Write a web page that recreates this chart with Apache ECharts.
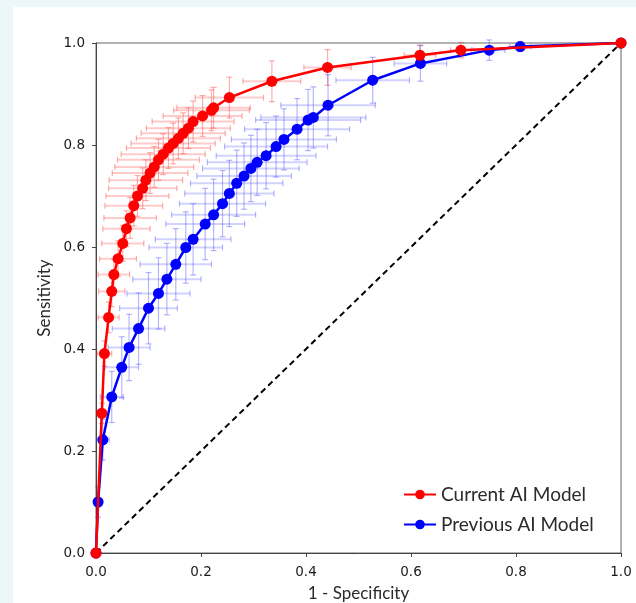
<!DOCTYPE html>
<html><head><meta charset="utf-8">
<script src="https://cdn.jsdelivr.net/npm/echarts@6/dist/echarts.min.js"></script>
<style>
html,body{margin:0;padding:0;background:#edf6f8;width:636px;height:603px;overflow:hidden}
#panel{position:absolute;left:13px;top:7px;right:0;bottom:0;background:#fff}
#c{position:absolute;left:0;top:0;width:636px;height:603px}
</style></head><body>
<div id="panel"></div>
<div id="c"></div>
<script>
const currentX = [0,0.011,0.016,0.024,0.030,0.034,0.042,0.051,0.058,0.065,0.072,0.079,0.089,0.095,0.103,0.111,0.119,0.128,0.138,0.147,0.157,0.166,0.176,0.185,0.203,0.220,0.224,0.254,0.335,0.441,0.617,0.695,1.0];
const currentY = [0,0.274,0.391,0.462,0.513,0.546,0.577,0.607,0.636,0.657,0.681,0.700,0.715,0.731,0.745,0.757,0.771,0.782,0.794,0.803,0.813,0.823,0.833,0.846,0.857,0.868,0.873,0.893,0.925,0.952,0.976,0.986,1.0];
const currentXErr = [0,0.008,0.014,0.02,0.025,0.03,0.035,0.04,0.045,0.05,0.055,0.06,0.065,0.07,0.072,0.075,0.078,0.08,0.08,0.08,0.08,0.08,0.08,0.078,0.075,0.072,0.07,0.065,0.055,0.045,0.03,0.02,0];
const currentYErr = [0,0.02,0.025,0.03,0.03,0.03,0.035,0.035,0.035,0.04,0.04,0.04,0.04,0.04,0.04,0.04,0.04,0.04,0.04,0.04,0.04,0.04,0.04,0.04,0.04,0.04,0.04,0.04,0.04,0.035,0.02,0.015,0];

const previousX = [0,0.004,0.013,0.030,0.049,0.063,0.081,0.100,0.119,0.135,0.152,0.171,0.185,0.208,0.224,0.241,0.254,0.268,0.282,0.295,0.307,0.324,0.343,0.358,0.383,0.404,0.414,0.442,0.527,0.618,0.749,0.808,1.0];
const previousY = [0,0.10,0.222,0.306,0.364,0.403,0.440,0.480,0.509,0.537,0.566,0.599,0.615,0.645,0.663,0.685,0.705,0.725,0.739,0.754,0.766,0.779,0.797,0.811,0.831,0.849,0.854,0.878,0.927,0.960,0.986,0.993,1.0];
const previousXErr = [0,0.005,0.012,0.022,0.032,0.04,0.05,0.055,0.06,0.065,0.068,0.07,0.072,0.075,0.08,0.082,0.085,0.088,0.09,0.092,0.095,0.095,0.098,0.1,0.1,0.1,0.1,0.09,0.07,0.05,0.03,0.02,0];
const previousYErr = [0,0.03,0.04,0.05,0.06,0.065,0.07,0.07,0.07,0.07,0.07,0.07,0.07,0.07,0.07,0.065,0.065,0.065,0.065,0.065,0.065,0.065,0.06,0.06,0.06,0.06,0.06,0.06,0.045,0.035,0.02,0.01,0];

const chanceLine = [[0,0],[1,1]];

function pts(xs, ys){ return xs.map((x,i)=>[x, ys[i]]); }
function errData(xs, ys, xe, ye){ return xs.map((x,i)=>[x, ys[i], xe[i], ye[i]]); }

function errRender(hColor, vColor){
  return function(params, api){
    const x = api.value(0), y = api.value(1), xe = api.value(2), ye = api.value(3);
    if (!xe && !ye) return null;
    const c = api.coord([x,y]);
    const l = api.coord([x-xe,y]), r = api.coord([x+xe,y]);
    const b = api.coord([x,y-ye]), t = api.coord([x,y+ye]);
    const cap = 3;
    const hs = {stroke: hColor, lineWidth: 2};
    const vs = {stroke: vColor, lineWidth: 1.2};
    const ln = (x1,y1,x2,y2,st)=>({type:'line', shape:{x1,y1,x2,y2}, style:st});
    return {type:'group', children:[
      ln(l[0],c[1],r[0],c[1],hs),
      ln(c[0],b[1],c[0],t[1],vs),
      ln(l[0],c[1]-cap,l[0],c[1]+cap,vs),
      ln(r[0],c[1]-cap,r[0],c[1]+cap,vs),
      ln(c[0]-cap,b[1],c[0]+cap,b[1],vs),
      ln(c[0]-cap,t[1],c[0]+cap,t[1],vs)
    ]};
  };
}

const chart = echarts.init(document.getElementById('c'), null, {renderer:'canvas'});
const tickFont = {fontFamily:'DejaVu Sans', fontSize:13.5, color:'#1a1a1a'};
chart.setOption({
  backgroundColor:'transparent',
  animation:false,
  grid:{left:96, right:15, top:43, bottom:50, outerBoundsMode:'none', containLabel:false,
    show:true, borderColor:'#666', borderWidth:1, backgroundColor:'transparent'},
  xAxis:{type:'value', min:0, max:1, interval:0.2,
    name:'1 - Specificity', nameLocation:'middle', nameGap:32,
    nameTextStyle:{fontFamily:'Lato', fontSize:17, color:'#2a2a2a'},
    axisLine:{show:true, lineStyle:{color:'#444', width:1}},
    axisTick:{show:true, length:4, lineStyle:{color:'#444'}},
    axisLabel:Object.assign({margin:12, formatter:v=>v.toFixed(1)}, tickFont),
    splitLine:{show:false}},
  yAxis:{type:'value', min:0, max:1, interval:0.2,
    name:'Sensitivity', nameLocation:'middle', nameGap:43,
    nameTextStyle:{fontFamily:'Lato', fontSize:17, color:'#2a2a2a'},
    axisLine:{show:true, lineStyle:{color:'#444', width:1}},
    axisTick:{show:true, length:4, lineStyle:{color:'#444'}},
    axisLabel:Object.assign({margin:11, formatter:v=>v.toFixed(1)}, tickFont),
    splitLine:{show:false}},
  legend:{orient:'vertical', left:398, top:480, itemGap:11, itemWidth:32, itemHeight:12,
    data:['Current AI Model','Previous AI Model'],
    textStyle:{fontFamily:'Lato', fontSize:19, color:'#2a2a2a'}},
  series:[
    {type:'custom', name:'curErr', renderItem:errRender('rgba(255,80,80,0.3)','rgba(255,40,40,0.38)'),
      data:errData(currentX,currentY,currentXErr,currentYErr), encode:{x:0,y:1}, z:1, silent:true},
    {type:'custom', name:'prevErr', renderItem:errRender('rgba(80,80,255,0.26)','rgba(40,40,255,0.34)'),
      data:errData(previousX,previousY,previousXErr,previousYErr), encode:{x:0,y:1}, z:1, silent:true},
    {type:'line', name:'Chance', data:chanceLine, symbol:'none',
      lineStyle:{color:'#000', width:2, type:[6,4]}, z:2},
    {type:'line', name:'Previous AI Model', data:pts(previousX,previousY),
      symbol:'circle', symbolSize:11, itemStyle:{color:'#0000ff'},
      lineStyle:{color:'#0000ff', width:2.5}, z:3},
    {type:'line', name:'Current AI Model', data:pts(currentX,currentY),
      symbol:'circle', symbolSize:11, itemStyle:{color:'#ff0000'},
      lineStyle:{color:'#ff0000', width:2.5}, z:4}
  ]
});
</script>
</body></html>
